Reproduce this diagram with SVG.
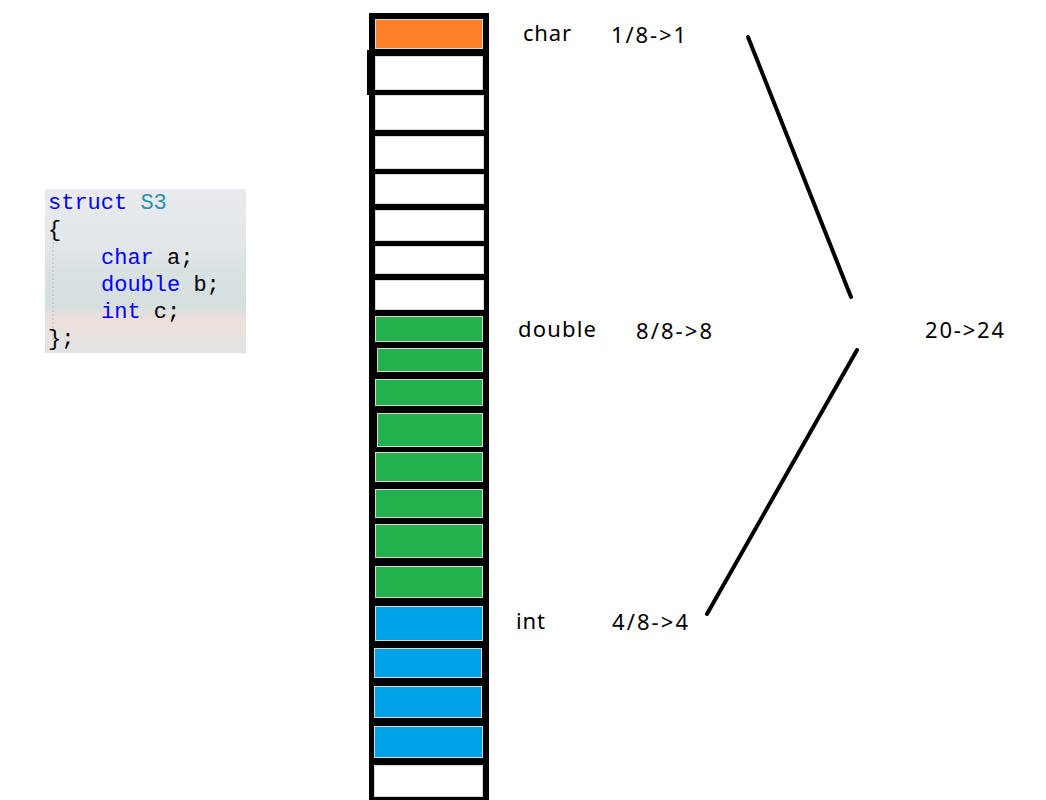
<svg xmlns="http://www.w3.org/2000/svg" width="1046" height="800" viewBox="0 0 1046 800">
<style>
.lbl{font-family:"Noto Sans","Open Sans",sans-serif;font-size:22px;fill:#000}
.code{font-family:"Liberation Mono","DejaVu Sans Mono",monospace;font-size:22px;fill:#000}
.kw{fill:#0000ff}
.ty{fill:#2b91af}
.cell{stroke:#d8d8d8;stroke-width:1}
.o{fill:#fd7f28}
.g{fill:#22b14c}
.b{fill:#00a2e8}
.w{fill:#ffffff}
.conn{stroke:#000;stroke-width:4;fill:none;stroke-linecap:round}
</style>
<defs>
<linearGradient id="bg" x1="0" y1="0" x2="0" y2="1">
<stop offset="0" stop-color="#e9ebee"/>
<stop offset="0.35" stop-color="#e3e7ea"/>
<stop offset="0.5" stop-color="#d9e1e3"/>
<stop offset="0.72" stop-color="#d6dfe0"/>
<stop offset="0.8" stop-color="#efdfda"/>
<stop offset="0.9" stop-color="#e6e2e0"/>
<stop offset="1" stop-color="#e2e3e5"/>
</linearGradient>
</defs>
<rect width="1046" height="800" fill="#fff"/>

<g id="code">
<rect x="45" y="189" width="201" height="164" fill="url(#bg)"/>
<line x1="53" y1="222" x2="53" y2="340" stroke="#b8bcc0" stroke-width="1" stroke-dasharray="2,2"/>
<text class="code" x="48" y="209"><tspan class="kw">struct</tspan> <tspan class="ty">S3</tspan></text>
<text class="code" x="48" y="236">{</text>
<text class="code" x="101" y="264"><tspan class="kw">char</tspan> a;</text>
<text class="code" x="101" y="291"><tspan class="kw">double</tspan> b;</text>
<text class="code" x="101" y="318"><tspan class="kw">int</tspan> c;</text>
<text class="code" x="48" y="345">};</text>
</g>

<g id="memory">
<rect x="369" y="13" width="120" height="787" fill="#000"/>
<rect x="367" y="50" width="4" height="45" fill="#000"/>
<rect class="cell o" x="375.5" y="19.5" width="107" height="29"/>
<rect class="cell w" x="375.5" y="56.5" width="107" height="33"/>
<rect class="cell w" x="375.5" y="95.5" width="108" height="34"/>
<rect class="cell w" x="375.5" y="136.5" width="108" height="32"/>
<rect class="cell w" x="375.5" y="174.5" width="108" height="29"/>
<rect class="cell w" x="375.5" y="210.5" width="108" height="30"/>
<rect class="cell w" x="375.5" y="246.5" width="108" height="27"/>
<rect class="cell w" x="375.5" y="280.5" width="108" height="29"/>
<rect class="cell g" x="375.5" y="316.5" width="107" height="25"/>
<rect class="cell g" x="377.5" y="348.5" width="105" height="23"/>
<rect class="cell g" x="375.5" y="379.5" width="107" height="26"/>
<rect class="cell g" x="377.5" y="413.5" width="105" height="33"/>
<rect class="cell g" x="375.5" y="452.5" width="107" height="29"/>
<rect class="cell g" x="375.5" y="489.5" width="107" height="28"/>
<rect class="cell g" x="375.5" y="524.5" width="107" height="33"/>
<rect class="cell g" x="375.5" y="566.5" width="107" height="31"/>
<rect class="cell b" x="375.5" y="606.5" width="107" height="34"/>
<rect class="cell b" x="374.5" y="648.5" width="107" height="29"/>
<rect class="cell b" x="374.5" y="686.5" width="107" height="31"/>
<rect class="cell b" x="374.5" y="726.5" width="108" height="31"/>
<rect class="cell w" x="374.5" y="765.5" width="108" height="31"/>
</g>

<g id="labels">
<text class="lbl" x="523" y="41" textLength="48">char</text>
<text class="lbl" x="611" y="43" textLength="75">1/8-&gt;1</text>
<text class="lbl" x="518" y="337" textLength="78">double</text>
<text class="lbl" x="636" y="339" textLength="76">8/8-&gt;8</text>
<text class="lbl" x="516" y="629" textLength="29">int</text>
<text class="lbl" x="612" y="630" textLength="76">4/8-&gt;4</text>
<text class="lbl" x="925" y="338" textLength="79">20-&gt;24</text>
</g>

<g id="connectors">
<line class="conn" x1="748" y1="37" x2="851" y2="297"/>
<line class="conn" x1="857" y1="350" x2="707" y2="614"/>
</g>
</svg>
